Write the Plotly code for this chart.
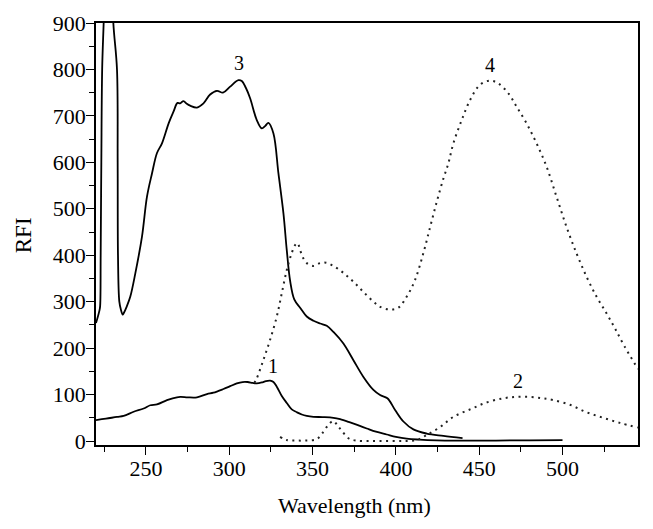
import plotly.graph_objects as go

# Curve 3 (solid)
x3 = [220, 222.3, 222.6, 222.8, 223.2, 223.7, 224.6, 226, 227.5, 229, 230.4, 232.6, 233.0, 233.2, 234, 235, 236,
      236.6, 238.5, 240.6, 243.6, 247.6, 250.6, 253.6, 256.6, 259.6, 263.6, 266.5, 268.9, 270.5, 272.5, 274.5,
      276.5, 280.6, 284.5, 288.5, 292.6, 296.2, 300.5, 305.5, 307.5, 310, 312.5, 316.5, 319.5, 321.5, 323.5,
      326.5, 329.5, 332.5, 334.5, 336.5, 339, 342.5, 346.5, 350.5, 354.5, 358.5, 362.5, 368.5, 374.5, 380.5,
      386.5, 390.5, 394.9, 399.5, 404.5, 410.5, 418.5, 428.5, 440]
y3 = [254, 285, 300, 400, 600, 800, 900, 1050, 1100, 1050, 900, 800, 600, 400, 300, 282, 272,
      275, 290, 311, 361, 440, 526, 576, 620, 641, 684, 709, 728, 727, 732, 726,
      722, 718, 727, 746, 754, 750, 763, 777, 775, 760, 738, 691, 673, 678, 685,
      662, 576, 490, 411, 345, 305, 287, 268, 259, 253, 248, 235, 210, 174, 138,
      110, 99, 92, 67, 42, 25, 16, 11, 6]

# Curve 1 (solid)
x1 = [220, 226, 232.6, 236.6, 242.6, 248.6, 252.6, 256.6, 262.6, 266, 270.5, 275, 280.6, 286.6, 290.5, 296.5,
      300.5, 304.5, 308, 311, 314, 316.5, 319.5, 322, 324.5, 326.5, 328.5, 331.5, 334.5, 337.5, 340.5, 343.5,
      346.5, 350.5, 356, 362.5, 366.5, 372.5, 378, 382.5, 388, 394.5, 400, 406.5, 414, 424.5, 438.5, 460, 480, 500]
y1 = [45, 48, 52, 54, 63, 70, 77, 79, 88, 92, 95, 94, 94, 101, 104, 112,
      118, 124, 127, 127, 125, 124, 126, 129, 130, 127, 117, 97, 82, 68, 62, 57,
      54, 52, 51.5, 50, 47, 40, 33, 27, 20, 14, 9, 5, 3, 1.5, 1, 1, 1.5, 2]

# Curve 4 (dotted)
x4 = [315, 316.5, 320.5, 324.5, 328.5, 331.5, 334.5, 337.5, 339.5, 341, 342.5, 344.5, 346.5, 350.5, 354.5,
      358.1, 362.5, 368.5, 374.5, 380.5, 386.5, 390.5, 396.5, 401.5, 406.5, 411.5, 416.5, 420.5, 424.5, 428.5,
      431.5, 434.5, 439.5, 444.5, 450.5, 456.4, 461.4, 467.4, 472.4, 478.4, 484.4, 490.4, 496.4, 502.4, 508.4,
      514.4, 520.4, 526.4, 531.4, 537, 545.3]
y4 = [125, 135, 175, 218, 268, 318, 368, 405, 422, 426, 411, 393, 383, 377, 383,
      384, 377, 362, 343, 321, 300, 289, 283, 287, 311, 347, 405, 460, 515, 565,
      598, 641, 691, 734, 767, 776, 770, 749, 720, 684, 641, 591, 526, 461, 404,
      354, 311, 275, 243, 205, 155]

# Curve 2 (dotted)
x2 = [330.5, 334.5, 340, 346, 352.5, 356.5, 359.5, 362.5, 365, 367.5, 371.5, 376, 385, 395, 405, 412.5,
      418.5, 426.5, 434.5, 444.5, 454.5, 464.5, 472, 480.5, 488, 494.4, 504.4, 514.4, 524.4, 534.4, 545.3]
y2 = [9, 2, 1, 1, 4, 20, 35, 43, 33, 22, 6, 1, 0, 0, 0, 2,
      13, 30, 52, 68, 83, 92, 95, 95, 92, 88, 78, 62, 50, 39, 29]

labels = ["1", "2", "3", "4"]
label_x = [326.3, 473.2, 305.9, 456.4]
label_y = [161.5, 129, 814, 810]

x_ticks = [250, 300, 350, 400, 450, 500]
y_ticks = [0, 100, 200, 300, 400, 500, 600, 700, 800, 900]

x_title = "Wavelength (nm)"
y_title = "RFI"

FONT = "Liberation Serif, DejaVu Serif, Times New Roman, serif"

fig = go.Figure()
fig.add_trace(go.Scatter(x=x3, y=y3, mode="lines", line=dict(color="black", width=1.8), line_shape="spline",
                         showlegend=False))
fig.add_trace(go.Scatter(x=x1, y=y1, mode="lines", line=dict(color="black", width=1.8), line_shape="spline",
                         showlegend=False))
fig.add_trace(go.Scatter(x=x4, y=y4, mode="lines", line=dict(color="#222", width=2, dash="2px,4.5px"),
                         line_shape="spline", showlegend=False))
fig.add_trace(go.Scatter(x=x2, y=y2, mode="lines", line=dict(color="#222", width=2, dash="2px,4.5px"),
                         line_shape="spline", showlegend=False))

for t, lx, ly in zip(labels, label_x, label_y):
    fig.add_annotation(x=lx, y=ly, text=t, showarrow=False, xanchor="center", yanchor="middle",
                       font=dict(family=FONT, size=20, color="black"))

# axis titles (placed as annotations for exact positioning)
fig.add_annotation(text=x_title, xref="x", x=375.2, yref="paper", y=0, yanchor="middle", xanchor="center",
                   yshift=-60, showarrow=False, font=dict(family=FONT, size=22, color="black"))
fig.add_annotation(text=y_title, xref="paper", x=0, xanchor="center", xshift=-73, yref="y", y=443,
                   yanchor="middle", textangle=-90, showarrow=False,
                   font=dict(family=FONT, size=23, color="black"))

axis_common = dict(showline=True, linecolor="black", linewidth=1.5, mirror=True, showgrid=False, zeroline=False,
                   ticks="outside", ticklen=8, tickwidth=1.3, tickcolor="black", automargin=False,
                   tickfont=dict(family=FONT, size=22, color="black"))

fig.update_xaxes(range=[220, 545.3], tickvals=x_ticks, ticktext=[str(v) for v in x_ticks],
                 minor=dict(ticks="outside", ticklen=5, tickwidth=1.3, tickcolor="black", dtick=25, tick0=225,
                            showgrid=False),
                 ticklabelstandoff=-5, **axis_common)
fig.update_yaxes(range=[-8.6, 900], tickvals=y_ticks, ticktext=[str(v) for v in y_ticks],
                 minor=dict(ticks="outside", ticklen=5, tickwidth=1.3, tickcolor="black", dtick=50, tick0=50,
                            showgrid=False),
                 ticklabelstandoff=-4, **axis_common)

# page body has an 8px margin, so the figure is 8px smaller and margins shifted
fig.update_layout(width=645, height=521, margin=dict(l=88, r=15, t=15, b=84),
                  font=dict(family=FONT, color="black"),
                  plot_bgcolor="white", paper_bgcolor="white", showlegend=False)

fig.write_html("out.html")
